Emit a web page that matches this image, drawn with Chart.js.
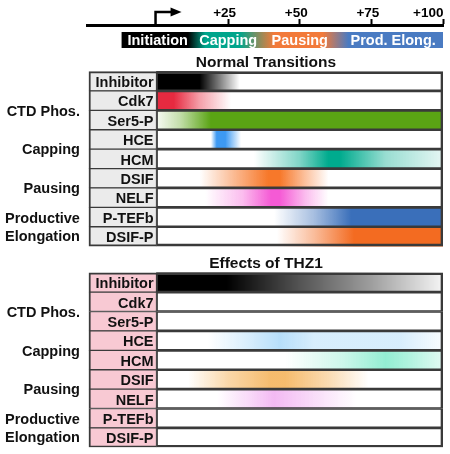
<!DOCTYPE html>
<html><head><meta charset="utf-8">
<script src="https://cdn.jsdelivr.net/npm/chart.js@4"></script>
<style>html,body{margin:0;padding:0;background:#fff;}#wrap{width:450px;height:454px;}</style>
</head><body><div id="wrap"><canvas id="c" width="450" height="454"></canvas></div>
<script>
// ---------- data ----------
const rowLabels = ['Inhibitor','Cdk7','Ser5-P','HCE','HCM','DSIF','NELF','P-TEFb','DSIF-P'];
const groupNames = [['CTD Phos.'],['Capping'],['Pausing'],['Productive','Elongation']];
const groupRows = [[1,2],[3,4],[5,6],[7,8]];
const panelTitles = ['Normal Transitions','Effects of THZ1'];
const axisTicks = [25,50,75,100];
const tickLabels = ['+25','+50','+75','+100'];
const phaseNames = ['Initiation','Capping','Pausing','Prod. Elong.'];
const phaseCenters = [0.4,25,50,82.6];
const phaseStops = [[-12.2,'#000000'],[11,'#000000'],[17,'#00a58c'],[29,'#00a58c'],[41,'#f27a3a'],[58,'#f27a3a'],[67,'#4a7bc2'],[100,'#4a7bc2']];
// intensity profiles: [position, intensity]
const normalColors = ['#000000','#e62a40','#5aa414','#3d99f2','#00ab8e','#f7782a','#f55ad5','#3a6fba','#f36b21'];
const normalProfiles = [
  [[0,1],[15,1],[29,0]],
  [[0,1],[6,1],[15,0.45],[26,0]],
  [[0,0.05],[8,0.35],[19,1],[100,1]],
  [[19,0],[21,1],[24,1],[29.5,0]],
  [[34,0],[50,0.5],[60,1],[64,1],[80,0.4],[100,0.1]],
  [[15,0],[28,0.55],[39,1],[43,1],[52,0.45],[60,0]],
  [[17,0],[30,0.4],[40,1],[43,1],[52,0.4],[60,0]],
  [[41,0],[55,0.45],[68,1],[100,1]],
  [[42,0],[55,0.45],[69,1],[100,1]]
];
const thz1Colors = ['#000000',null,null,'#7cc4f6','#6fe8c4','#f4b054','#ee9cee',null,null];
const thz1Profiles = [
  [[0,1],[24.5,1],[50,0.67],[75,0.38],[100,0.04]],
  null,
  null,
  [[18,0],[30,0.25],[43,0.55],[55,0.3],[70,0.3],[85,0.3],[100,0.05]],
  [[45,0],[65,0.35],[80,0.75],[88,0.55],[100,0.2]],
  [[11,0],[25,0.5],[40,0.85],[45,0.85],[60,0.45],[74,0]],
  [[21,0],[33,0.4],[41,0.7],[55,0.35],[70,0]],
  null,
  null
];

// ---------- layout helpers ----------
const panelOffset = [0, 10.37];
const headerPos = -2.13;
const labelStart = -23.6;
const FONT = '"Liberation Sans", Arial, Helvetica, sans-serif';

function rgba(hex, a){const n=parseInt(hex.slice(1),16);return `rgba(${(n>>16)&255},${(n>>8)&255},${n&255},${a})`;}
function makeGradient(chart, stops, colorOf){
  const xs = chart.scales.x;
  if(!xs || !chart.chartArea) return 'rgba(0,0,0,0)';
  const v0 = stops[0][0], v1 = stops[stops.length-1][0];
  const p0 = xs.getPixelForValue(v0), p1 = xs.getPixelForValue(v1);
  if(!isFinite(p0)||!isFinite(p1)) return 'rgba(0,0,0,0)';
  const g = chart.ctx.createLinearGradient(p0,0,p1,0);
  stops.forEach(s => g.addColorStop((s[0]-v0)/(v1-v0), colorOf(s)));
  return g;
}
function profileData(profiles, panel){
  const out = [];
  profiles.forEach((p,i)=>{ if(p) out.push({x:[p[0][0], p[p.length-1][0]], y: panelOffset[panel]+i, row:i}); });
  return out;
}
const allRows = [];
[0,1].forEach(p => rowLabels.forEach((l,i)=>allRows.push({p,i})));

const gradDataset = (profiles, colors, panel) => ({
  data: profileData(profiles, panel),
  backgroundColor: c => c.raw ? makeGradient(c.chart, profiles[c.raw.row], s => rgba(colors[c.raw.row], s[1])) : 'rgba(0,0,0,0)',
  borderWidth: 0, grouped:false, barPercentage:1, categoryPercentage:1, order:4
});
const cellBorder = (isLabel) => c => {
  if(!c.raw) return 1;
  const i = c.raw.row;
  return {left: isLabel?2:1, right: isLabel?1:2, top: i===0?2:1, bottom: i===8?2:1};
};

const textPlugin = {
  id:'texts',
  afterDraw(chart){
    const {ctx, chartArea} = chart; const x = chart.scales.x, y = chart.scales.y;
    ctx.save();
    // tick labels
    ctx.fillStyle='#000';
    ctx.font = 'bold 13.5px '+FONT;
    ctx.textBaseline='alphabetic'; ctx.textAlign='left';
    axisTicks.forEach((v,i)=>{
      const w = ctx.measureText(tickLabels[i]).width;
      const left = Math.min(x.getPixelForValue(v)-3.5-w/2, chartArea.right+0.5-w);
      ctx.fillText(tickLabels[i], left, chartArea.top-8.5);
    });
    // TSS arrow
    const x0 = x.getPixelForValue(0)-1, t = chartArea.top;
    ctx.strokeStyle='#000'; ctx.lineWidth=2.5; ctx.lineCap='butt';
    ctx.beginPath(); ctx.moveTo(x0,t); ctx.lineTo(x0,t-13); ctx.lineTo(x0+16,t-13); ctx.stroke();
    ctx.beginPath(); ctx.moveTo(x0+15,t-17.5); ctx.lineTo(x0+26,t-13); ctx.lineTo(x0+15,t-8.5); ctx.closePath(); ctx.fill();
    // phase names
    ctx.fillStyle='#fff'; ctx.font='bold 14.5px '+FONT; ctx.textAlign='center';
    phaseNames.forEach((n,i)=>ctx.fillText(n, x.getPixelForValue(phaseCenters[i]), y.getPixelForValue(headerPos)+5.3));
    // panels
    ctx.fillStyle='#111';
    [0,1].forEach(p=>{
      const off = panelOffset[p];
      ctx.font='bold 15.5px '+FONT; ctx.textAlign='center';
      ctx.fillText(panelTitles[p], (x.getPixelForValue(labelStart)+x.getPixelForValue(100))/2, y.getPixelForValue(off-0.5)-4.5);
      ctx.font='bold 14.5px '+FONT; ctx.textAlign='right';
      rowLabels.forEach((l,i)=>ctx.fillText(l, x.getPixelForValue(0)-3, y.getPixelForValue(off+i)+5.8));
      groupNames.forEach((lines,g)=>{
        const rs = groupRows[g];
        const cy = (y.getPixelForValue(off+rs[0])+y.getPixelForValue(off+rs[rs.length-1]))/2;
        lines.forEach((ln,k)=>ctx.fillText(ln, x.getPixelForValue(labelStart)-9, cy+5.2+(k-(lines.length-1)/2)*18.5));
      });
    });
    ctx.restore();
  }
};

new Chart(document.getElementById('c'), {
  type:'bar',
  data:{ datasets:[
    { data:[{x:[phaseStops[0][0], phaseStops[phaseStops.length-1][0]], y:headerPos}],
      backgroundColor: c => c.raw ? makeGradient(c.chart, phaseStops, s=>s[1]) : 'rgba(0,0,0,0)',
      borderWidth:0, grouped:false, barPercentage:0.82, categoryPercentage:1, order:5 },
    gradDataset(normalProfiles, normalColors, 0),
    gradDataset(thz1Profiles, thz1Colors, 1),
    { data: allRows.map(r=>({x:[labelStart,0], y:panelOffset[r.p]+r.i, row:r.i, panel:r.p})),
      backgroundColor: c => c.raw && c.raw.panel===1 ? '#f8c9d3' : '#ebebeb',
      borderColor:'#3a3a3a', borderWidth: cellBorder(true), borderSkipped:false,
      grouped:false, barPercentage:1, categoryPercentage:1, order:2 },
    { data: allRows.map(r=>({x:[0,100], y:panelOffset[r.p]+r.i, row:r.i, panel:r.p})),
      backgroundColor:'rgba(0,0,0,0)',
      borderColor:'#3a3a3a', borderWidth: cellBorder(false), borderSkipped:false,
      grouped:false, barPercentage:1, categoryPercentage:1, order:1 }
  ]},
  options:{
    indexAxis:'y', responsive:false, animation:false, events:[],
    layout:{padding:{top:19, left:87.5, right:7, bottom:6.7}},
    plugins:{legend:{display:false}, tooltip:{enabled:false}},
    scales:{
      x:{type:'linear', position:'top', min:-24.1, max:100, offset:false,
         grid:{display:true, drawOnChartArea:false, drawTicks:true, tickLength:6, tickWidth:2, tickColor:'#000', color:'#000'},
         border:{display:true, color:'#000', width:3},
         ticks:{display:false},
         afterBuildTicks: s => { s.ticks = axisTicks.map(v=>({value:v})); }},
      y:{type:'linear', display:false, reverse:true, min:-2.90, max:18.87, offset:false, grid:{offset:false},
         afterBuildTicks: s => { s.ticks = [{value:0}]; }}
    }
  },
  plugins:[textPlugin]
});
</script></body></html>
